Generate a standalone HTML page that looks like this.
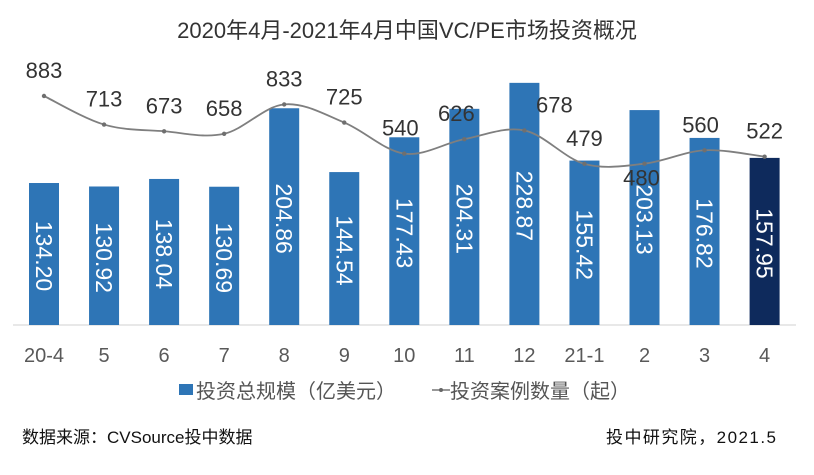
<!DOCTYPE html>
<html><head><meta charset="utf-8">
<style>
body{margin:0;background:#fff;width:814px;height:470px;overflow:hidden;font-family:"Liberation Sans","Noto Sans CJK SC",sans-serif;}
svg text{font-family:"Liberation Sans","Noto Sans CJK SC",sans-serif;}
</style></head><body>
<svg id="chart" width="814" height="470" xmlns="http://www.w3.org/2000/svg">
<text x="407" y="38" text-anchor="middle" font-size="22" fill="#333">2020年4月-2021年4月中国VC/PE市场投资概况</text>
<line x1="13" y1="325" x2="796" y2="325" stroke="#d0d0d0" stroke-width="1"/>
<g id="bars"></g><g id="line"></g><g id="xlabels"></g>
<rect x="179" y="384" width="14" height="11" fill="#2e75b6"/>
<text x="196" y="398" font-size="20" fill="#555">投资总规模（亿美元）</text>
<line x1="432" y1="390" x2="450" y2="390" stroke="#777" stroke-width="1.5"/>
<circle cx="441" cy="390" r="2" fill="#666"/>
<text x="450" y="398" font-size="20" fill="#555">投资案例数量（起）</text>
<text x="22" y="443" font-size="17" fill="#111">数据来源：CVSource投中数据</text>
<text x="776" y="443" text-anchor="end" font-size="17" fill="#111" textLength="170">投中研究院，2021.5</text>
</svg>
<script>
const categories=["20-4","5","6","7","8","9","10","11","12","21-1","2","3","4"];
const amounts=[134.20,130.92,138.04,130.69,204.86,144.54,177.43,204.31,228.87,155.42,203.13,176.82,157.95];
const amountLabels=["134.20","130.92","138.04","130.69","204.86","144.54","177.43","204.31","228.87","155.42","203.13","176.82","157.95"];
const counts=[883,713,673,658,833,725,540,626,678,479,480,560,522];
const NS="http://www.w3.org/2000/svg";
function xPos(i){return 44+i*60.05;}
function yBar(v){return 325-v*1.058;}
function yLine(v){return 96+(883-v)*0.168;}
function mk(tag,attrs,parent){const e=document.createElementNS(NS,tag);for(const k in attrs)e.setAttribute(k,attrs[k]);parent.appendChild(e);return e;}
const gb=document.getElementById('bars'),gl=document.getElementById('line'),gx=document.getElementById('xlabels');
categories.forEach((c,i)=>{
  const x=xPos(i),top=yBar(amounts[i]);
  const r=mk('rect',{x:x-15,y:top,width:30,height:325-top,fill:i===categories.length-1?'#0e2a5c':'#2e75b6'},gb);
  
  
  const cy=(top+325)/2+2;
  const t=mk('text',{x:x,y:cy,'text-anchor':'middle','dominant-baseline':'central','font-size':23,fill:'#fff',transform:`rotate(90 ${x} ${cy})`},gb);
  t.textContent=amountLabels[i];
  
  
  const xl=mk('text',{x:x,y:362,'text-anchor':'middle','font-size':20,fill:'#595959'},gx);
  xl.textContent=c;
  
  
});
const pts=counts.map((v,i)=>[xPos(i),yLine(v)]);
let d=`M${pts[0][0]},${pts[0][1]}`;
for(let i=0;i<pts.length-1;i++){
  const p0=pts[Math.max(i-1,0)],p1=pts[i],p2=pts[i+1],p3=pts[Math.min(i+2,pts.length-1)];
  const c1=[p1[0]+(p2[0]-p0[0])/6,p1[1]+(p2[1]-p0[1])/6],c2=[p2[0]-(p3[0]-p1[0])/6,p2[1]-(p3[1]-p1[1])/6];
  d+=` C${c1[0]},${c1[1]} ${c2[0]},${c2[1]} ${p2[0]},${p2[1]}`;
}
const path=mk('path',{d:d,fill:'none',stroke:'#7f7f7f','stroke-width':1.8},gl);


const offs=[[0,-18],[0,-18],[0,-18],[0,-18],[0,-18],[0,-18],[-4,-18],[-8,-18],[30,-18],[0,-18],[-3,22],[-4,-18],[0,-18]];
pts.forEach((p,i)=>{
  const m=mk('circle',{cx:p[0],cy:p[1],r:2.2,fill:'#6f6f6f'},gl);
  
  
  const t=mk('text',{x:p[0]+offs[i][0],y:p[1]+offs[i][1],'text-anchor':'middle','font-size':22,fill:'#333'},gl);
  t.textContent=counts[i];
  
  
});
</script>
</body></html>
